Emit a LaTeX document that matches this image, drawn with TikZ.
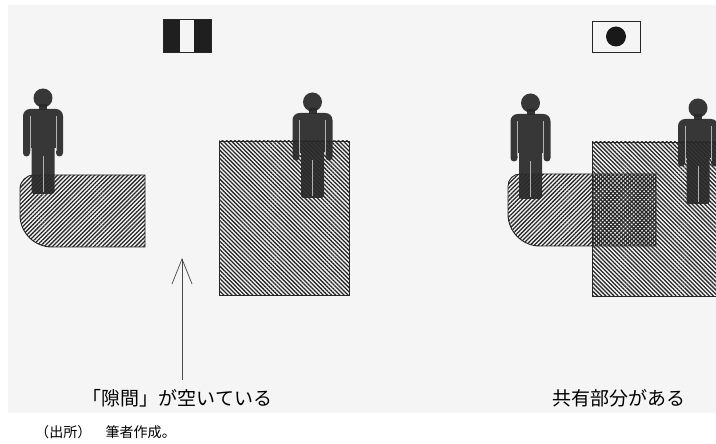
\documentclass[tikz,border=0pt]{standalone}
\usepackage{fontspec}
\newfontfamily\jpfont{Noto Sans CJK JP}
\usetikzlibrary{patterns.meta,arrows.meta}

\tikzset{
  fwdhatch/.style={pattern={Lines[angle=45,distance=2.5pt,line width=1.1pt]},pattern color=black!85},
  bwdhatch/.style={pattern={Lines[angle=-45,distance=2.5pt,line width=1.1pt]},pattern color=black!85},
  outline/.style={draw=black!85,line width=0.8pt},
  personfill/.style={fill=black!84,fill opacity=0.93},
  split/.style={draw=black!30,line width=0.6pt},
  captext/.style={font=\jpfont\fontsize{16.2pt}{18pt}\selectfont,inner sep=0pt},
  notetext/.style={font=\jpfont\fontsize{12pt}{14pt}\selectfont,inner sep=0pt},
  person/.pic={
    \fill[personfill] (-20,-30) [rounded corners=6] -- (-20,-11) -- (20,-11) -- (20,-30)
      [sharp corners] -- (20,-55) arc[start angle=0,end angle=-180,radius=3.5]
      -- (13,-50) -- (11.5,-50) [rounded corners=1.5] -- (11.5,-96) -- (-11.5,-96)
      [sharp corners] -- (-11.5,-50) -- (-13,-50) -- (-13,-55)
      arc[start angle=0,end angle=-180,radius=3.5] -- cycle;
    \fill[personfill] (-4,-12) rectangle (4,-6);
    \fill[personfill] (0,0) circle[radius=9.5];
    \draw[split] (-13,-18) -- (-13,-53);
    \draw[split] (13,-18) -- (13,-53);
    \draw[split] (0,-58) -- (0,-94);
  }
}

\begin{document}
\begin{tikzpicture}[x=0.03cm,y=0.03cm]
  \useasboundingbox (0,0) rectangle (716,444);
  \fill[white] (0,0) rectangle (716,444);
  \fill[black!4] (8,31) rectangle (716,439);

  \begin{scope}
    \clip (0,0) rectangle (716,444);

    % left: two areas apart
    \path[bwdhatch] (219,149) rectangle (349,303);
    \draw[outline] (219,149) rectangle (349,303);
    \path[fwdhatch] (145,197) -- (145,269) -- (34,269) arc[start angle=90,end angle=180,radius=14]
      -- (20,229) arc[start angle=180,end angle=270,radius=32] -- cycle;
    \draw[outline] (145,197) -- (145,269) -- (34,269) arc[start angle=90,end angle=180,radius=14]
      -- (20,229) arc[start angle=180,end angle=270,radius=32] -- cycle;

    % right: the two areas overlap
    \path[bwdhatch] (592,148) rectangle (730,302);
    \draw[outline] (592,148) rectangle (730,302);
    \path[fwdhatch] (656,198) -- (656,270) -- (520,270) arc[start angle=90,end angle=180,radius=12]
      -- (508,230) arc[start angle=180,end angle=270,radius=32] -- cycle;
    \draw[outline] (656,198) -- (656,270) -- (520,270) arc[start angle=90,end angle=180,radius=12]
      -- (508,230) arc[start angle=180,end angle=270,radius=32] -- cycle;

    \pic at (43,346) {person};
    \pic at (312.5,342) {person};
    \pic at (530.5,341) {person};
    \pic at (698,336) {person};
  \end{scope}

  % flags
  \fill[black!88] (163,392) rectangle (180,425);
  \fill[black!88] (194,392) rectangle (211,425);
  \draw[outline] (163,392) rectangle (211,425);
  \draw[outline] (592,392) rectangle (640,423);
  \fill[black!90] (616,407.5) circle[radius=10];

  \coordinate (gapfoot) at (182,64);
  \coordinate (gaptip) at (182,186);
  \draw[black!70,line width=0.6pt,-{Straight Barb[length=7.5mm,width=6mm]}] (gapfoot) -- (gaptip);

  \node[captext] (gaptext) at (177.5,46) {「隙間」が空いている};
  \node[captext] (sharetext) at (619,46) {共有部分がある};
  \node[notetext,anchor=west] (source) at (35,12) {（出所）　筆者作成。};
\end{tikzpicture}
\end{document}
